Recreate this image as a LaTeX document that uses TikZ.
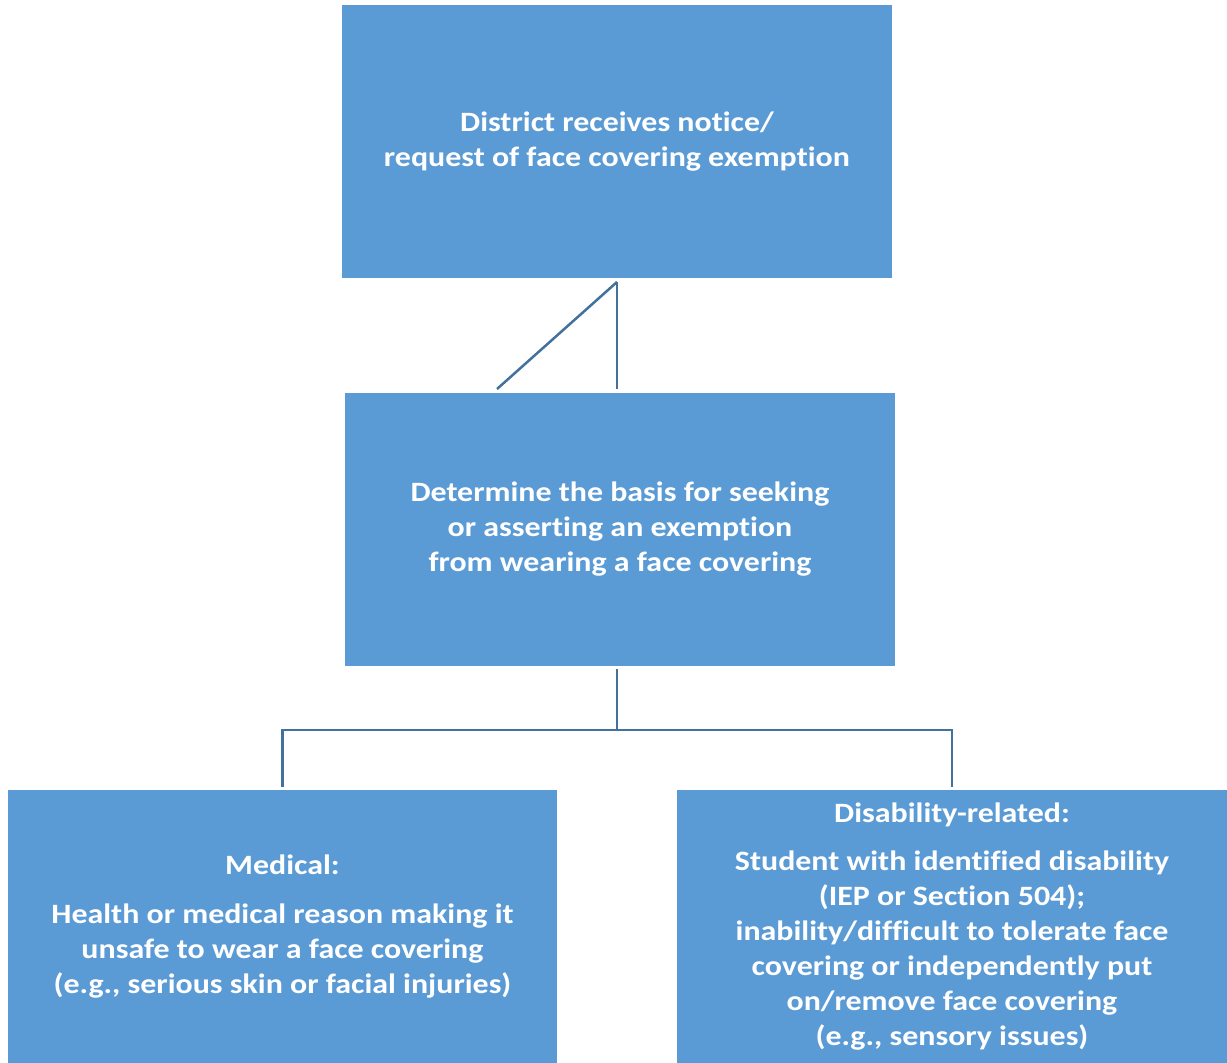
\documentclass[tikz,border=0pt]{standalone}
\usepackage{fontspec}
\setmainfont{Carlito}[FakeStretch=1.14, Ligatures=NoCommon]
\definecolor{boxblue}{HTML}{5B9BD5}
\definecolor{linkblue}{HTML}{41719C}
\begin{document}
\begin{tikzpicture}[x=1pt,y=-1pt,
  box/.style={fill=boxblue, draw=none, minimum width=550pt, minimum height=273pt,
    inner sep=0pt, text=white, font=\bfseries\fontsize{28}{35}\selectfont, align=center},
  link/.style={draw=linkblue, line width=2.5pt}]
\useasboundingbox (0,0) rectangle (1227,1063);
\node[box] (top) at (617,141.5) {District receives notice/\\request of face covering exemption};
\node[box] (mid) at (620,529.5) {Determine the basis for seeking\\or asserting an exemption\\from wearing a face covering};
\node[box, minimum width=549pt] (left) at (282.5,926.5) {Medical:\\[14pt]Health or medical reason making it\\unsafe to wear a face covering\\(e.g., serious skin or facial injuries)};
\node[box] (right) at (952,926.5) {Disability-related:\\[13pt]Student with identified disability\\(IEP or Section 504);\\inability/difficult to tolerate face\\covering or independently put\\on/remove face covering\\(e.g., sensory issues)};
\coordinate (a) at (617,282);
\coordinate (b) at (617,389);
\coordinate (c) at (497,389);
\draw[link] (a) -- (b);
\draw[link] (a) -- (c);
\coordinate (m) at (617,669);
\coordinate (j) at (617,730);
\draw[link] (m) -- (j);
\draw[link] ([yshift=3pt]left.north) |- (j) -| ([yshift=3pt]right.north);
\end{tikzpicture}
\end{document}
